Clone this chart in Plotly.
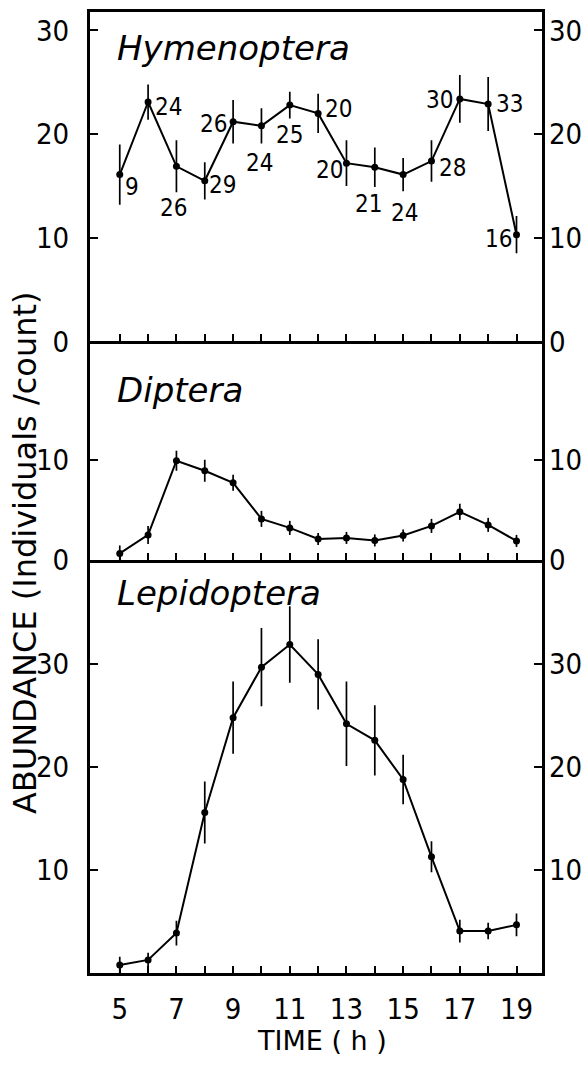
import plotly.graph_objects as go

hours = list(range(5, 20))
x_tick_text = ["5", "", "7", "", "9", "", "11", "", "13", "", "15", "", "17", "", "19"]

hym_mean = [16.1, 23.1, 16.9, 15.5, 21.2, 20.8, 22.8, 22.0, 17.2, 16.8, 16.1, 17.4, 23.4, 22.9, 10.3]
hym_err = [2.9, 1.7, 2.5, 1.8, 2.1, 1.7, 1.3, 1.9, 2.2, 1.9, 1.6, 2.0, 2.3, 2.6, 1.8]
hym_n = [9, 24, 26, 29, 26, 24, 25, 20, 20, 21, 24, 28, 30, 33, 16]

dip_mean = [0.65, 2.5, 9.9, 8.9, 7.7, 4.1, 3.2, 2.1, 2.2, 1.95, 2.45, 3.4, 4.8, 3.5, 1.9]
dip_err = [0.8, 0.9, 1.0, 1.1, 0.8, 0.8, 0.7, 0.6, 0.6, 0.6, 0.6, 0.7, 0.8, 0.7, 0.6]

lep_mean = [0.8, 1.3, 3.9, 15.6, 24.8, 29.7, 31.9, 29.0, 24.2, 22.6, 18.8, 11.3, 4.1, 4.1, 4.7]
lep_err = [0.8, 0.7, 1.2, 3.0, 3.5, 3.8, 3.7, 3.4, 4.1, 3.4, 2.4, 1.5, 1.1, 0.8, 1.1]

panel_titles = ["Hymenoptera", "Diptera", "Lepidoptera"]
y_title = "ABUNDANCE (Individuals /count)"
x_title = "TIME ( h )"

# label offsets (pixels) for the sample counts in the top panel
n_dx = [12, 20, -3, 18, -20, -2, 0, 20, -17, -6, 1, 21, -20, 21, -18]
n_dy = [-12, -5, -42, -4, -2, -37, -30, 4, -7, -37, -38, -7, -1, 0, -4]

W, H = 587, 1071
def fx(px):
    return px / W
def fy(py):
    return (H - py) / H

xdom = [fx(90), fx(542)]
ydoms = [[fy(347), fy(12)], [fy(569), fy(347)], [fy(989), fy(569)]]
yranges = [[0, 31.8], [0, 21.8], [0, 40.1]]
yticks = [[0, 10, 20, 30], [0, 10], [10, 20, 30]]
xrange_ = [3.95, 19.9]

NARROW = "DejaVu Sans Condensed, Roboto Condensed, Liberation Sans Narrow, Liberation Sans, Arial, sans-serif"
tick_font = dict(family=NARROW, size=29, color="black")

fig = go.Figure()
series = [(hym_mean, hym_err), (dip_mean, dip_err), (lep_mean, lep_err)]
for i, (m, e) in enumerate(series):
    sfx = "" if i == 0 else str(i + 1)
    fig.add_trace(go.Scatter(
        x=hours, y=m, mode="lines+markers",
        line=dict(color="black", width=2),
        marker=dict(color="black", size=7),
        error_y=dict(type="data", array=e, visible=True, width=0, thickness=1.7, color="black"),
        xaxis="x" + sfx, yaxis="y" + sfx, showlegend=False, hoverinfo="skip"))
    fig.add_trace(go.Scatter(x=[hours[0]], y=[None], mode="markers", marker=dict(opacity=0),
                             xaxis="x" + sfx, yaxis="y" + str(i + 4), showlegend=False, hoverinfo="skip"))

layout = dict(width=W, height=H, margin=dict(l=0, r=0, t=0, b=0),
              paper_bgcolor="white", plot_bgcolor="white", showlegend=False)

for i in range(3):
    sfx = "" if i == 0 else str(i + 1)
    layout["xaxis" + sfx] = dict(
        domain=xdom, anchor="y" + sfx, range=xrange_,
        showline=True, mirror=(i == 0), linecolor="black", linewidth=3,
        ticks="inside", tickvals=hours, ticktext=x_tick_text, ticklen=7, tickwidth=1.5, tickcolor="black",
        showticklabels=(i == 2), tickfont=tick_font, ticklabelstandoff=8,
        showgrid=False, zeroline=False)
    layout["yaxis" + sfx] = dict(
        domain=ydoms[i], anchor="x" + sfx, range=yranges[i],
        showline=True, mirror="ticks", linecolor="black", linewidth=3,
        ticks="inside", tickvals=yticks[i], ticklen=8, tickwidth=1.5, tickcolor="black",
        tickfont=tick_font, ticklabelstandoff=12,
        showgrid=False, zeroline=False)
    layout["yaxis" + str(i + 4)] = dict(
        overlaying="y" + sfx, side="right", anchor="x" + sfx, range=yranges[i],
        showline=False, ticks="", tickvals=yticks[i], tickfont=tick_font, ticklabelstandoff=6,
        showgrid=False, zeroline=False)

fig.update_layout(**layout)

ann = []
title_pos = [(115, 49), (115, 396), (115, 603)]
for t, (px, py) in zip(panel_titles, title_pos):
    ann.append(dict(text=t, x=fx(px), y=fy(py), xref="paper", yref="paper", xanchor="left", yanchor="middle",
                    showarrow=False, font=dict(family="DejaVu Sans", size=34, color="black", style="italic")))
for h, m, n, dx, dy in zip(hours, hym_mean, hym_n, n_dx, n_dy):
    ann.append(dict(text=str(n), x=h, y=m, xref="x", yref="y", xshift=dx, yshift=dy, showarrow=False,
                    font=dict(family=NARROW, size=24, color="black")))
ann.append(dict(text=y_title, x=fx(25), y=fy(562), xref="paper", yref="paper", textangle=-90, showarrow=False,
                xanchor="center", yanchor="middle", font=dict(family="DejaVu Sans", size=32, color="black")))
ann.append(dict(text=x_title, x=fx(322), y=fy(1057), xref="paper", yref="paper", showarrow=False,
                xanchor="center", yanchor="middle", font=dict(family="DejaVu Sans", size=27, color="black")))
fig.update_layout(annotations=ann)

fig.write_html("out.html")
